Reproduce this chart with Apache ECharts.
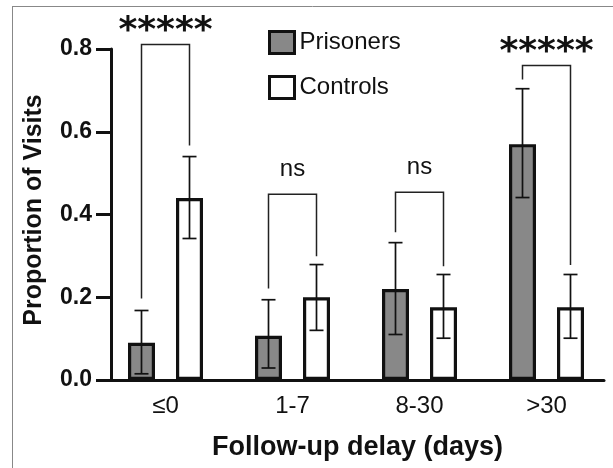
<!DOCTYPE html>
<html>
<head>
<meta charset="utf-8">
<script src="https://cdn.jsdelivr.net/npm/echarts@6/dist/echarts.min.js"></script>
<style>html,body{margin:0;padding:0;background:#fff;}#c{width:613px;height:468px;}</style>
</head>
<body>
<div id="c"></div>
<script>
const categories = ['≤0', '1-7', '8-30', '>30'];
const prisoners = [0.09, 0.107, 0.22, 0.57];
const prisonersLow = [0.015, 0.029, 0.11, 0.441];
const prisonersHigh = [0.168, 0.194, 0.332, 0.704];
const controls = [0.44, 0.2, 0.176, 0.176];
const controlsLow = [0.342, 0.12, 0.101, 0.101];
const controlsHigh = [0.54, 0.279, 0.255, 0.255];
const sigLabels = ['*****', 'ns', 'ns', '*****'];
const bracketTop = [0.811, 0.449, 0.454, 0.760];
const bracketLeftEnd = [0.197, 0.221, 0.357, 0.726];
const bracketRightEnd = [0.567, 0.299, 0.275, 0.278];
const yTicks = [0, 0.2, 0.4, 0.6, 0.8];

const FONT = 'Liberation Sans, Arial, sans-serif';
const BAR_W = 27, BAR_GAP = 21;
const HALF = (BAR_W + BAR_GAP) / 2;

function errRender(side) {
  return function (params, api) {
    const i = api.value(0);
    const hi = api.coord([i, api.value(2)]);
    const lo = api.coord([i, api.value(1)]);
    const x = hi[0] + side * HALF;
    const cap = 7;
    const st = { stroke: '#111', lineWidth: 1.7 };
    return {
      type: 'group',
      children: [
        { type: 'line', shape: { x1: x, y1: hi[1], x2: x, y2: lo[1] }, style: st },
        { type: 'line', shape: { x1: x - cap, y1: hi[1], x2: x + cap, y2: hi[1] }, style: st },
        { type: 'line', shape: { x1: x - cap, y1: lo[1], x2: x + cap, y2: lo[1] }, style: st }
      ]
    };
  };
}

const errP = categories.map((c, i) => [i, prisonersLow[i], prisonersHigh[i]]);
const errC = categories.map((c, i) => [i, controlsLow[i], controlsHigh[i]]);
const brData = categories.map((c, i) => [i, bracketTop[i], bracketLeftEnd[i], bracketRightEnd[i]]);

const chart = echarts.init(document.getElementById('c'), null, { renderer: 'canvas' });
chart.setOption({
  animation: false,
  backgroundColor: '#fff',
  grid: [
    { left: 102, right: 3, top: 49, bottom: 88 },
    { left: 111, right: 9, top: 49, bottom: 88 }
  ],
  legend: {
    orient: 'vertical', left: 268, top: 30, itemGap: 20, padding: 0,
    itemWidth: 25, itemHeight: 22, icon: 'rect',
    textStyle: { fontFamily: FONT, fontSize: 24, color: '#111' },
    data: [
      { name: 'Prisoners', itemStyle: { color: '#888', borderColor: '#111', borderWidth: 3 } },
      { name: 'Controls', itemStyle: { color: '#fff', borderColor: '#111', borderWidth: 3 } }
    ]
  },
  xAxis: [
    {
      gridIndex: 0, type: 'category', data: categories,
      axisLine: { show: false }, axisTick: { show: false },
      axisLabel: { fontFamily: FONT, fontSize: 24, color: '#111', margin: 14 }
    },
    {
      gridIndex: 1, type: 'value', min: 0, max: 1,
      axisLine: { show: true, lineStyle: { color: '#111', width: 3 } },
      axisTick: { show: false }, axisLabel: { show: false }, splitLine: { show: false },
      name: 'Follow-up delay (days)', nameLocation: 'middle', nameGap: 54,
      nameTextStyle: { fontFamily: FONT, fontSize: 27, fontWeight: 'bold', color: '#111' }
    }
  ],
  yAxis: [
    { gridIndex: 0, type: 'value', min: 0, max: 0.8, show: false },
    {
      gridIndex: 1, type: 'value', min: 0, max: 0.8, interval: 0.2,
      axisLine: { show: true, lineStyle: { color: '#111', width: 3 } },
      axisTick: { show: true, length: 15, lineStyle: { color: '#111', width: 3 } },
      splitLine: { show: false },
      axisLabel: {
        margin: 19, fontFamily: FONT, fontSize: 23, fontWeight: 'bold', color: '#111',
        formatter: v => yTicks.includes(Math.round(v * 10) / 10) ? v.toFixed(1) : ''
      },
      name: 'Proportion of Visits', nameLocation: 'middle', nameGap: 64,
      nameTextStyle: { fontFamily: FONT, fontSize: 25, fontWeight: 'bold', color: '#111', padding: [0, 0, 0, 9] }
    }
  ],
  series: [
    {
      name: 'Prisoners', type: 'bar', xAxisIndex: 0, yAxisIndex: 0, data: prisoners,
      barWidth: BAR_W, barGap: (BAR_GAP / BAR_W * 100).toFixed(1) + '%', z: 2,
      itemStyle: { color: '#888', borderColor: '#111', borderWidth: 3.2 }
    },
    {
      name: 'Controls', type: 'bar', xAxisIndex: 0, yAxisIndex: 0, data: controls,
      barWidth: BAR_W, barGap: (BAR_GAP / BAR_W * 100).toFixed(1) + '%', z: 2,
      itemStyle: { color: '#fff', borderColor: '#111', borderWidth: 3.2 }
    },
    {
      type: 'custom', xAxisIndex: 0, yAxisIndex: 0, data: errP, z: 5, clip: false,
      encode: { x: 0, y: [1, 2] }, renderItem: errRender(-1)
    },
    {
      type: 'custom', xAxisIndex: 0, yAxisIndex: 0, data: errC, z: 5, clip: false,
      encode: { x: 0, y: [1, 2] }, renderItem: errRender(1)
    },
    {
      type: 'custom', xAxisIndex: 0, yAxisIndex: 0, data: brData, z: 5, clip: false,
      encode: { x: 0, y: [1, 2, 3] },
      renderItem: function (params, api) {
        const i = api.value(0);
        const top = api.coord([i, api.value(1)]);
        const l = api.coord([i, api.value(2)]);
        const r = api.coord([i, api.value(3)]);
        const xl = top[0] - HALF, xr = top[0] + HALF;
        const lab = sigLabels[params.dataIndex];
        const st = { stroke: '#222', lineWidth: 1.5, fill: null };
        const isStar = lab.indexOf('*') >= 0;
        return {
          type: 'group',
          children: [
            { type: 'polyline', shape: { points: [[xl, l[1]], [xl, top[1]], [xr, top[1]], [xr, r[1]]] }, style: st },
            {
              type: 'text',
              x: top[0], y: top[1] - (isStar ? 13 : 25),
              style: {
                text: lab, align: 'center', verticalAlign: 'middle',
                font: isStar ? 'bold 36px DejaVu Sans, sans-serif' : '24px ' + FONT,
                fill: '#111'
              }
            }
          ]
        };
      }
    }
  ],
  graphic: [
    { type: 'line', shape: { x1: 12, y1: 6.5, x2: 613, y2: 6.5 }, style: { stroke: '#888', lineWidth: 1 } },
    { type: 'line', shape: { x1: 12.5, y1: 6, x2: 12.5, y2: 468 }, style: { stroke: '#888', lineWidth: 1 } }
  ]
});
</script>
</body>
</html>
